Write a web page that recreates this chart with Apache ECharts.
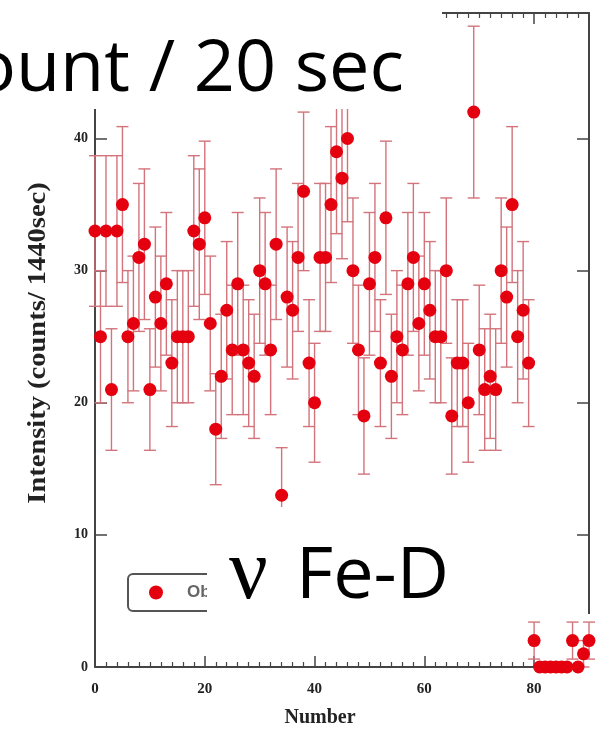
<!doctype html>
<html>
  <head>
    <meta charset="utf-8">
    <title>Intensity vs Number</title>
    <script src="https://cdn.jsdelivr.net/npm/echarts@6/dist/echarts.min.js"></script>
    <style>
      html, body { margin: 0; padding: 0; background: #fff; }
      #chart { width: 596px; height: 735px; }
    </style>
  </head>
  <body>
    <div id="chart"></div>
    <script type="text/javascript">
      // measurement number (x)
      var numbers = [
        0, 1, 2, 3, 4, 5, 6, 7, 8, 9,
        10, 11, 12, 13, 14, 15, 16, 17, 18, 19,
        20, 21, 22, 23, 24, 25, 26, 27, 28, 29,
        30, 31, 32, 33, 34, 35, 36, 37, 38, 39,
        40, 41, 42, 43, 44, 45, 46, 47, 48, 49,
        50, 51, 52, 53, 54, 55, 56, 57, 58, 59,
        60, 61, 62, 63, 64, 65, 66, 67, 68, 69,
        70, 71, 72, 73, 74, 75, 76, 77, 78, 79,
        80, 81, 82, 83, 84, 85, 86, 87, 88, 89, 90
      ];
      // intensity (counts / 1440 sec)
      var counts = [
        33, 25, 33, 21, 33, 35, 25, 26, 31, 32,
        21, 28, 26, 29, 23, 25, 25, 25, 33, 32,
        34, 26, 18, 22, 27, 24, 29, 24, 23, 22,
        30, 29, 24, 32, 13, 28, 27, 31, 36, 23,
        20, 31, 31, 35, 39, 37, 40, 30, 24, 19,
        29, 31, 23, 34, 22, 25, 24, 29, 31, 26,
        29, 27, 25, 25, 30, 19, 23, 23, 20, 42,
        24, 21, 22, 21, 30, 28, 35, 25, 27, 23,
        2, 0, 0, 0, 0, 0, 0, 2, 0, 1, 2
      ];
      // error bar half-widths
      var errors = [
        5.7, 5.0, 5.7, 4.6, 5.7, 5.9, 5.0, 5.1, 5.6, 5.7,
        4.6, 5.3, 5.1, 5.4, 4.8, 5.0, 5.0, 5.0, 5.7, 5.7,
        5.8, 5.1, 4.2, 4.7, 5.2, 4.9, 5.4, 4.9, 4.8, 4.7,
        5.5, 5.4, 4.9, 5.7, 3.6, 5.3, 5.2, 5.6, 6.0, 4.8,
        4.5, 5.6, 5.6, 5.9, 6.2, 6.1, 6.3, 5.5, 4.9, 4.4,
        5.4, 5.6, 4.8, 5.8, 4.7, 5.0, 4.9, 5.4, 5.6, 5.1,
        5.4, 5.2, 5.0, 5.0, 5.5, 4.4, 4.8, 4.8, 4.5, 6.5,
        4.9, 4.6, 4.7, 4.6, 5.5, 5.3, 5.9, 5.0, 5.2, 4.8,
        1.4, 0, 0, 0, 0, 0, 0, 1.4, 0, 1.0, 1.4
      ];
      var xTicks = { min: 0, max: 90, interval: 20 };
      var yTicks = { min: 0, max: 49.5, interval: 10 };

      var points = numbers.map(function (n, i) { return [n, counts[i]]; });
      var bars = numbers.map(function (n, i) { return [n, counts[i] - errors[i], counts[i] + errors[i]]; });

      var axisColor = '#444';
      var labelStyle = {
        fontFamily: 'Liberation Serif',
        fontWeight: 'bold',
        fontSize: 15,
        color: '#222'
      };

      function frameX(pos, withLabels) {
        return {
          type: 'value', position: pos,
          min: xTicks.min, max: xTicks.max, interval: xTicks.interval,
          splitLine: { show: false },
          axisLine: { onZero: false, lineStyle: { color: axisColor, width: 2 } },
          axisTick: { inside: true, length: 11, lineStyle: { color: axisColor, width: 1.5 } },
          minorTick: { show: true, splitNumber: 10, length: 5, lineStyle: { color: axisColor, width: 1.2 } },
          axisLabel: withLabels ? Object.assign({ margin: 15, showMaxLabel: false }, labelStyle) : { show: false }
        };
      }
      function frameY(pos, withLabels) {
        return {
          type: 'value', position: pos,
          min: yTicks.min, max: yTicks.max, interval: yTicks.interval,
          splitLine: { show: false },
          axisLine: { onZero: false, lineStyle: { color: axisColor, width: 2 } },
          axisTick: { inside: true, length: 12, lineStyle: { color: axisColor, width: 1.5 } },
          axisLabel: withLabels ? Object.assign({ margin: 7, showMaxLabel: false }, labelStyle, { fontSize: 14 }) : { show: false }
        };
      }

      var myChart = echarts.init(document.getElementById('chart'));
      var option = {
        animation: false,
        backgroundColor: '#fff',
        grid: { left: 95, right: 7, top: 13, bottom: 68 },
        legend: {
          left: 128,
          top: 574,
          data: ['Obs'],
          icon: 'circle',
          itemWidth: 14,
          itemHeight: 14,
          padding: [10, 40, 10, 21],
          borderColor: '#555',
          borderWidth: 2,
          borderRadius: 5,
          textStyle: {
            fontFamily: 'Liberation Sans',
            fontWeight: 'bold',
            fontSize: 17,
            color: '#666',
            padding: [0, 0, 0, 19]
          }
        },
        xAxis: [frameX('bottom', true), frameX('top', false)],
        yAxis: [frameY('left', true), frameY('right', false)],
        series: [
          {
            name: 'errors',
            type: 'custom',
            z: 2,
            data: bars,
            renderItem: function (params, api) {
              var x = api.value(0), lo = api.value(1), hi = api.value(2);
              if (hi - lo <= 0) return null;
              var top = api.coord([x, hi]);
              var bot = api.coord([x, lo]);
              var cap = 6;
              var st = { stroke: '#d3737b', lineWidth: 1.4 };
              return {
                type: 'group',
                children: [
                  { type: 'line', shape: { x1: top[0], y1: top[1], x2: bot[0], y2: bot[1] }, style: st },
                  { type: 'line', shape: { x1: top[0] - cap, y1: top[1], x2: top[0] + cap, y2: top[1] }, style: st },
                  { type: 'line', shape: { x1: bot[0] - cap, y1: bot[1], x2: bot[0] + cap, y2: bot[1] }, style: st }
                ]
              };
            }
          },
          {
            name: 'Obs',
            type: 'scatter',
            z: 3,
            symbol: 'circle',
            symbolSize: 13,
            itemStyle: { color: '#e5000f', opacity: 1 },
            data: points
          }
        ],
        graphic: [
          // patch in the lower right corner where the frame is missing
          { type: 'rect', z: 1, shape: { x: 537, y: 614, width: 59, height: 64 }, style: { fill: '#fff' } },
          // y axis title
          {
            type: 'text', z: 5, x: 39, y: 343, rotation: Math.PI / 2, scaleX: 1.14,
            style: { text: 'Intensity (counts/ 1440sec)', align: 'center', verticalAlign: 'middle',
              font: 'bold 25px "Liberation Serif"', fill: '#222' }
          },
          {
            type: 'text', z: 5,
            style: { x: 320, y: 718, text: 'Number', align: 'center', verticalAlign: 'middle',
              font: 'bold 20px "Liberation Serif"', fill: '#222' }
          },
          // slide title box
          { type: 'rect', z: 100, shape: { x: 0, y: 0, width: 442, height: 109 }, style: { fill: '#fff' } },
          {
            type: 'text', z: 101,
            style: { x: 404, y: 70, text: 'ount / 20 sec', align: 'right', verticalAlign: 'middle',
              font: '72px "Open Sans"', fill: '#000' }
          },
          // label box
          { type: 'rect', z: 100, shape: { x: 207, y: 507, width: 253, height: 133 }, style: { fill: '#fff' } },
          {
            type: 'text', z: 101,
            style: { x: 229, y: 575, text: 'ν', align: 'left', verticalAlign: 'middle',
              font: '86px "Liberation Serif"', fill: '#000' }
          },
          {
            type: 'text', z: 101,
            style: { x: 296, y: 577, text: 'Fe-D', align: 'left', verticalAlign: 'middle',
              font: '72px "Open Sans"', fill: '#000' }
          }
        ]
      };
      myChart.setOption(option);
    </script>
  </body>
</html>
